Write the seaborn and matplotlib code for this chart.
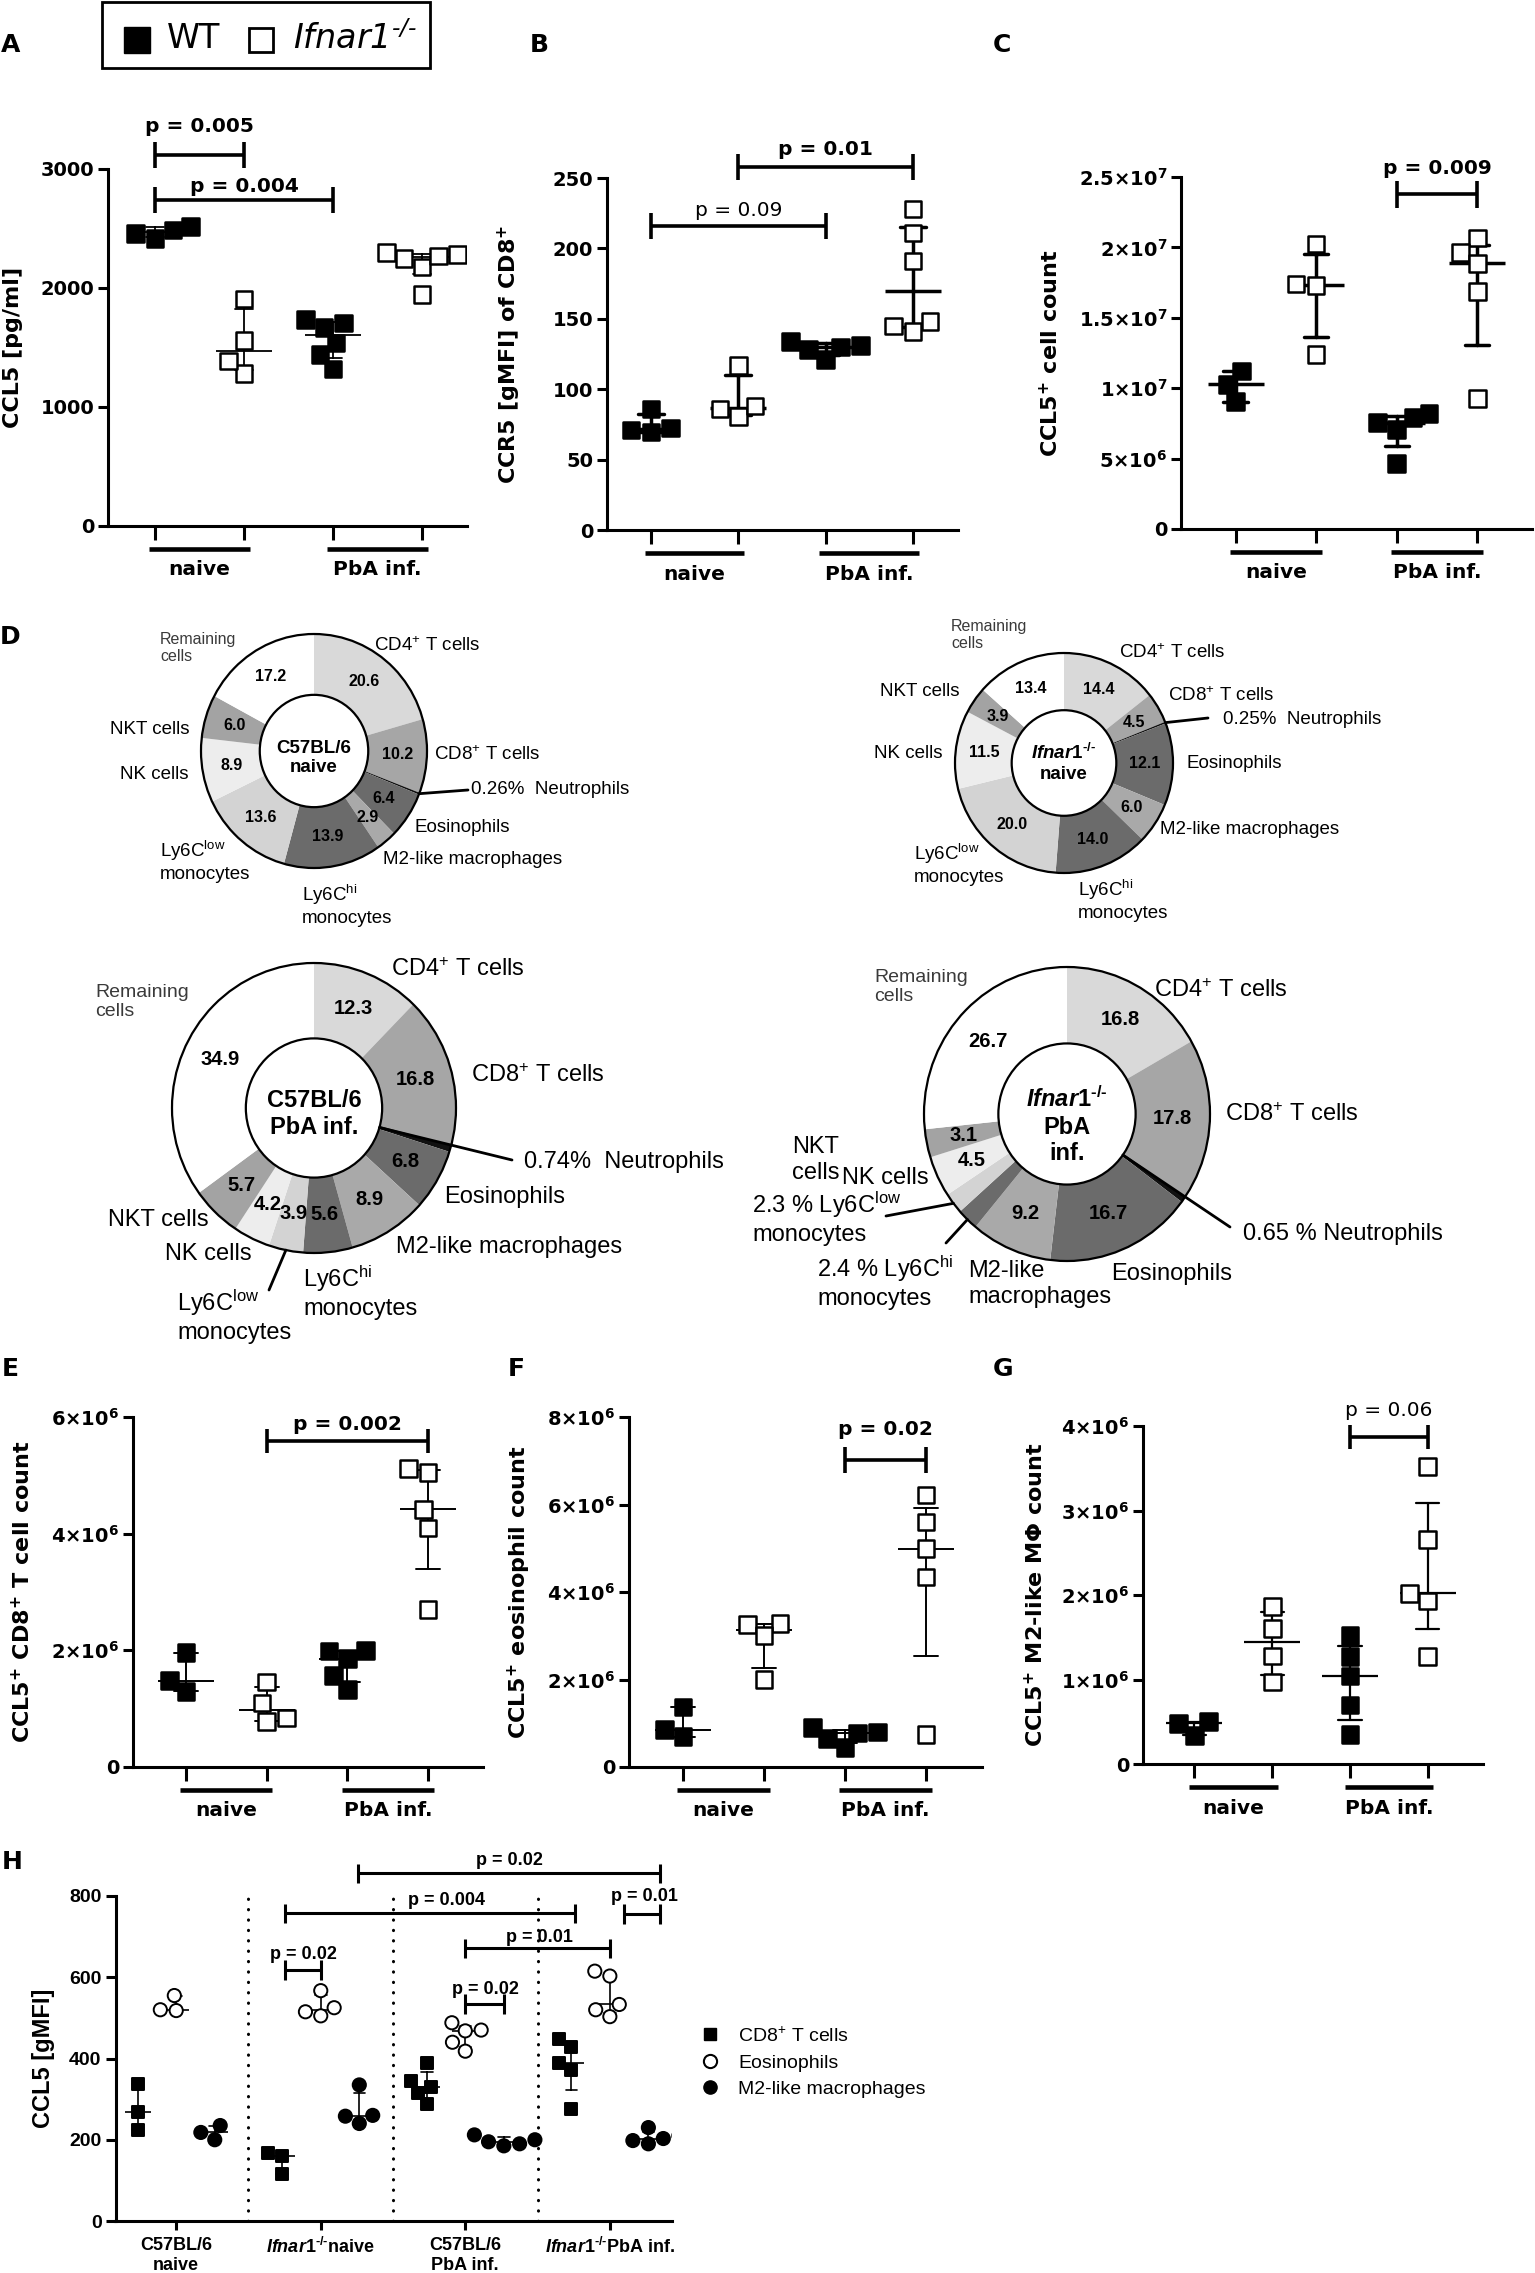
import numpy as np
import pandas as pd
import matplotlib
matplotlib.use('Agg')
from matplotlib import pyplot as plt
from matplotlib import patches, transforms
from matplotlib.lines import Line2D
import seaborn as sns

W, H = 1535, 2273

# ---------------------------------------------------------------- data
GROUPS = ['WT naive', 'Ifnar1 naive', 'WT PbA', 'Ifnar1 PbA']
GENOTYPES = ['WT', 'KO', 'WT', 'KO']

# A: CCL5 [pg/ml]
ccl5_serum = [
    [2415, 2515, 2455, 2485],
    [1905, 1555, 1280, 1385],
    [1318, 1440, 1537, 1666, 1704, 1736],
    [1945, 2174, 2244, 2267, 2277, 2293],
]
# B: CCR5 [gMFI] of CD8+
ccr5_cd8 = [
    [69.5, 71, 72.5, 86],
    [80.5, 86, 88, 117],
    [121, 128, 130, 131, 134],
    [141, 145, 148, 191, 211, 228],
]
# C: CCL5+ cell count
ccl5_cells = [
    [11.23e6, 10.28e6, 9.05e6],
    [20.23e6, 17.39e6, 17.31e6, 12.40e6],
    [4.63e6, 7.09e6, 7.55e6, 7.9e6, 8.2e6],
    [20.67e6, 19.63e6, 18.87e6, 16.85e6, 9.27e6],
]
# E: CCL5+ CD8+ T cell count
ccl5_cd8_cells = [
    [1.96e6, 1.48e6, 1.30e6],
    [1.46e6, 1.10e6, 0.84e6, 0.78e6],
    [2.0e6, 1.99e6, 1.86e6, 1.57e6, 1.33e6],
    [5.12e6, 5.05e6, 4.42e6, 4.1e6, 2.7e6],
]
# F: CCL5+ eosinophil count
ccl5_eos_cells = [
    [1.37e6, 0.69e6, 0.85e6],
    [3.28e6, 3.25e6, 3.01e6, 2.0e6],
    [0.91e6, 0.78e6, 0.80e6, 0.65e6, 0.44e6],
    [6.22e6, 5.6e6, 4.99e6, 4.34e6, 0.74e6],
]
# G: CCL5+ M2-like macrophage count
ccl5_m2_cells = [
    [0.34e6, 0.48e6, 0.50e6],
    [1.86e6, 1.60e6, 1.28e6, 0.97e6],
    [1.52e6, 1.27e6, 1.04e6, 0.70e6, 0.35e6],
    [3.52e6, 2.66e6, 2.02e6, 1.93e6, 1.27e6],
]

# D: composition of CCL5+ cells (%)
PIE_CELLS = ['CD4', 'CD8', 'Neutrophils', 'Eosinophils', 'M2', 'Ly6Chi',
             'Ly6Clow', 'NK', 'NKT', 'Remaining']
pie_wt_naive = [20.6, 10.2, 0.26, 6.4, 2.9, 13.9, 13.6, 8.9, 6.0, 17.2]
pie_ko_naive = [14.4, 4.5, 0.25, 12.1, 6.0, 14.0, 20.0, 11.5, 3.9, 13.4]
pie_wt_pba = [12.3, 16.8, 0.74, 6.8, 8.9, 5.6, 3.9, 4.2, 5.7, 34.9]
pie_ko_pba = [16.8, 17.8, 0.65, 16.7, 9.2, 2.4, 2.3, 4.5, 3.1, 26.7]

# H: CCL5 [gMFI] per cell type
H_CONDS = ['wt_naive', 'ko_naive', 'wt_pba', 'ko_pba']
H_CELLS = ['CD8', 'Eos', 'M2']
h_cd8 = [[338, 268, 225], [168, 160, 115],
         [390, 345, 330, 315, 288], [447, 428, 390, 372, 275]]
h_eos = [[555, 520, 518], [567, 525, 505, 515],
         [488, 470, 468, 440, 418], [615, 603, 533, 520, 503]]
h_m2 = [[235, 218, 200], [335, 260, 240, 258],
        [212, 200, 195, 190, 185], [230, 210, 203, 198, 190]]

# ---------------------------------------------------------------- style
sns.set_style('ticks')
plt.rcParams.update({
    'font.family': 'DejaVu Sans',
    'axes.edgecolor': 'black',
    'axes.labelcolor': 'black',
    'xtick.color': 'black',
    'ytick.color': 'black',
    'text.color': 'black',
    'mathtext.default': 'regular',
    'mathtext.fontset': 'custom',
    'mathtext.it': 'Liberation Sans:italic:bold',
    'mathtext.rm': 'Liberation Sans:bold',
    'mathtext.bf': 'Liberation Sans:bold',
})
ARIAL = 'Liberation Sans'
KO_SUP = '$^{\u2010/\u2010}$'   # plain hyphens, no operator spacing

fig = plt.figure(figsize=(W / 100, H / 100), dpi=100)


def add_ax(x0, y0, x1, y1):
    return fig.add_axes([x0 / W, 1 - y1 / H, (x1 - x0) / W, (y1 - y0) / H])


def iqr(v):
    return (np.percentile(v, 25, method='weibull'),
            np.percentile(v, 75, method='weibull'))


def long_table(values):
    rows = [(g, gt, v) for g, gt, vals in zip(GROUPS, GENOTYPES, values)
            for v in vals]
    return pd.DataFrame(rows, columns=['group', 'genotype', 'value'])


def bracket(ax, x1, x2, y, h, label, ty, tx=None, bold=True, fs=14.5,
            lw=2.6, **text_kw):
    kw = dict(color='black', lw=lw, clip_on=False, solid_capstyle='butt')
    ax.plot([x1, x2], [y, y], **kw)
    ax.plot([x1, x1], [y - h, y + h], **kw)
    ax.plot([x2, x2], [y - h, y + h], **kw)
    ax.text((x1 + x2) / 2 if tx is None else tx, ty, label, ha='center',
            va='baseline', fontsize=fs,
            fontweight='bold' if bold else 'normal', clip_on=False, **text_kw)


def place_ylabel(ax, px):
    pos = ax.get_position()
    ax.yaxis.label.set_va('center')
    ax.yaxis.set_label_coords((px / W - pos.x0) / pos.width, 0.5)


def scatter_panel(box, xlim, values, ylim, yticks, yticklabels, ylabel,
                  ylabel_x, lw, capsize):
    ax = add_ax(*box)
    df = long_table(values)
    sns.swarmplot(data=df, x='group', y='value', hue='genotype', order=GROUPS,
                  hue_order=['WT', 'KO'],
                  palette={'WT': 'black', 'KO': 'white'},
                  marker='s', size=12, edgecolor='black', linewidth=1.8,
                  legend=False, ax=ax)
    sns.pointplot(data=df, x='group', y='value', order=GROUPS,
                  estimator='median', errorbar=iqr, color='black',
                  marker='_', markersize=40, markeredgewidth=lw,
                  linestyle='none', capsize=capsize,
                  err_kws={'linewidth': lw}, ax=ax)
    ax.set_xlim(*xlim)
    ax.set_ylim(*ylim)
    ax.set_xticks(range(4), [''] * 4)
    ax.set_yticks(yticks, yticklabels, fontsize=14, fontweight='bold')
    ax.set_xlabel('')
    ax.set_ylabel(ylabel, fontsize=16, fontweight='bold')
    place_ylabel(ax, ylabel_x)
    sns.despine(ax=ax)
    for side in ('left', 'bottom'):
        ax.spines[side].set_linewidth(2.2)
    ax.tick_params(axis='y', length=7, width=2.2, pad=3)
    ax.tick_params(axis='x', length=10, width=2.2)

    base = transforms.blended_transform_factory(ax.transData, ax.transAxes)
    line_tr = transforms.offset_copy(base, fig=fig, y=-23, units='dots')
    text_tr = transforms.offset_copy(base, fig=fig, y=-44, units='dots')
    for (a, b), name in zip([(0, 1), (2, 3)], ['naive', 'PbA inf.']):
        ax.plot([a - 0.07, b + 0.07], [0, 0], transform=line_tr,
                color='black', lw=3.3, clip_on=False, solid_capstyle='butt')
        ax.text((a + b) / 2, 0, name, transform=text_tr, ha='center',
                va='center', fontsize=14.5, fontweight='bold')
    return ax


# ---------------------------------------------------------------- A, B, C
ax_a = scatter_panel((108, 168.6, 467, 526), (-0.528, 3.506), ccl5_serum,
                     (0, 3000), [0, 1000, 2000, 3000],
                     ['0', '1000', '2000', '3000'], 'CCL5 [pg/ml]', 13,
                     1.3, 0.2)
bracket(ax_a, 0, 1, 3113, 110, 'p = 0.005', 3305)
bracket(ax_a, 0, 2, 2736, 110, 'p = 0.004', 2807)

ax_b = scatter_panel((607, 178, 958, 530), (-0.504, 3.517), ccr5_cd8,
                     (0, 250), [0, 50, 100, 150, 200, 250],
                     ['0', '50', '100', '150', '200', '250'],
                     'CCR5 [gMFI] of CD8$^{+}$', 509, 2.5, 0.3)
bracket(ax_b, 0, 2, 216, 9.3, 'p = 0.09', 223, bold=False)
bracket(ax_b, 1, 3, 258, 9.3, 'p = 0.01', 266)

ax_c = scatter_panel((1181, 177, 1532, 529), (-0.677, 3.68), ccl5_cells,
                     (0, 2.5e7), [0, 5e6, 1e7, 1.5e7, 2e7, 2.5e7],
                     ['0', '5×10$^{6}$', '1×10$^{7}$', '1.5×10$^{7}$',
                      '2×10$^{7}$', '2.5×10$^{7}$'],
                     'CCL5$^{+}$ cell count', 1050, 2.5, 0.3)
bracket(ax_c, 2, 3, 23.77e6, 0.95e6, 'p = 0.009', 25.2e6)

# ---------------------------------------------------------------- E, F, G
ax_e = scatter_panel((133, 1417, 483, 1767), (-0.657, 3.68), ccl5_cd8_cells,
                     (0, 6e6), [0, 2e6, 4e6, 6e6],
                     ['0', '2×10$^{6}$', '4×10$^{6}$', '6×10$^{6}$'],
                     'CCL5$^{+}$ CD8$^{+}$ T cell count', 22, 1.4, 0.3)
bracket(ax_e, 1, 3, 5.59e6, 0.21e6, 'p = 0.002', 5.78e6)

ax_f = scatter_panel((629, 1417, 982, 1767), (-0.667, 3.69), ccl5_eos_cells,
                     (0, 8e6), [0, 2e6, 4e6, 6e6, 8e6],
                     ['0', '2×10$^{6}$', '4×10$^{6}$', '6×10$^{6}$',
                      '8×10$^{6}$'],
                     'CCL5$^{+}$ eosinophil count', 519, 1.4, 0.3)
bracket(ax_f, 2, 3, 7.02e6, 0.29e6, 'p = 0.02', 7.58e6)

ax_g = scatter_panel((1143, 1426, 1483, 1764), (-0.662, 3.71), ccl5_m2_cells,
                     (0, 4e6), [0, 1e6, 2e6, 3e6, 4e6],
                     ['0', '1×10$^{6}$', '2×10$^{6}$', '3×10$^{6}$',
                      '4×10$^{6}$'],
                     'CCL5$^{+}$ M2-like MΦ count', 1035, 1.6, 0.3)
bracket(ax_g, 2, 3, 3.87e6, 0.14e6, 'p = 0.06', 4.12e6, bold=False)

# ---------------------------------------------------------------- D pies
PIE_COLORS = ['#d9d9d9', '#a6a6a6', '#111111', '#6b6b6b', '#a9a9a9',
              '#6b6b6b', '#d3d3d3', '#ededed', '#a3a3a3', '#ffffff']
INNER = 0.48


def pie_panel(center, semi, values, center_text, labels, leaders, skip,
              fs, fs_small, fs_value, center_dy=0.0):
    (cx, cy), (a, b) = center, semi
    ax = add_ax(cx - a, cy - b, cx + a, cy + b)
    wedges, _ = ax.pie(values, colors=PIE_COLORS, startangle=90,
                       counterclock=False, radius=1,
                       wedgeprops={'width': 1 - INNER, 'linewidth': 0})
    ax.set_aspect('auto')
    ax.set_xlim(-1, 1)
    ax.set_ylim(-1, 1)
    ax.axis('off')
    for r in (1, INNER):
        ax.add_patch(patches.Circle((0, 0), r, fill=False, ec='black',
                                    lw=1.6, clip_on=False, zorder=4))
    mid = [np.deg2rad((w.theta1 + w.theta2) / 2) for w in wedges]
    rr = (1 + INNER) / 2
    for i, (v, ang) in enumerate(zip(values, mid)):
        if i in skip:
            continue
        ax.text(rr * np.cos(ang), rr * np.sin(ang), f'{v:.1f}', ha='center',
                va='center', fontsize=fs_value, fontweight='bold',
                family=ARIAL)
    ax.text(0, center_dy, center_text, ha='center', va='center',
            multialignment='center', fontsize=fs, fontweight='bold',
            family=ARIAL)
    for text, x, y, ha in labels:
        small = text.startswith('Remaining')
        fig.text(x / W, 1 - y / H, text, ha=ha, va='center', family=ARIAL,
                 fontsize=fs_small if small else fs,
                 color='#3a3a3a' if small else 'black')
    for i, r0, ex, ey in leaders:
        ax.annotate('', xy=(r0 * np.cos(mid[i]), r0 * np.sin(mid[i])),
                    xytext=(ex, H - ey), textcoords='figure pixels',
                    arrowprops=dict(arrowstyle='-', lw=2, color='black',
                                    shrinkA=0, shrinkB=0),
                    annotation_clip=False, zorder=5)


pie_panel((314, 751), (113, 117), pie_wt_naive, 'C57BL/6\nnaive', [
    ('Remaining\ncells', 160, 648, 'left'),
    ('CD4$^{+}$ T cells', 374, 646, 'left'),
    ('CD8$^{+}$ T cells', 434, 755, 'left'),
    ('0.26%  Neutrophils', 471, 790, 'left'),
    ('Eosinophils', 415, 828, 'left'),
    ('M2-like macrophages', 383, 860, 'left'),
    ('Ly6C$^{hi}$\nmonocytes', 302, 905, 'left'),
    ('Ly6C$^{low}$\nmonocytes', 160, 861, 'left'),
    ('NK cells', 189, 775, 'right'),
    ('NKT cells', 189, 729, 'right'),
], [(2, 1.0, 468, 790)], {2}, 13.5, 11.5, 11.5, center_dy=-0.06)

pie_panel((1064, 763), (109, 110), pie_ko_naive,
          '$\\mathit{Ifnar1}$' + KO_SUP + '\nnaive', [
              ('Remaining\ncells', 951, 635, 'left'),
              ('CD4$^{+}$ T cells', 1119, 653, 'left'),
              ('CD8$^{+}$ T cells', 1168, 696, 'left'),
              ('0.25%  Neutrophils', 1223, 720, 'left'),
              ('Eosinophils', 1186, 763, 'left'),
              ('M2-like macrophages', 1160, 830, 'left'),
              ('Ly6C$^{hi}$\nmonocytes', 1078, 900, 'left'),
              ('Ly6C$^{low}$\nmonocytes', 914, 864, 'left'),
              ('NK cells', 943, 753, 'right'),
              ('NKT cells', 960, 692, 'right'),
          ], [(2, 1.0, 1208, 718)], {2}, 13.5, 11.5, 11.5)

pie_panel((314, 1108), (142, 145), pie_wt_pba, 'C57BL/6\nPbA inf.', [
    ('Remaining\ncells', 95, 1002, 'left'),
    ('CD4$^{+}$ T cells', 391, 970, 'left'),
    ('CD8$^{+}$ T cells', 471, 1076, 'left'),
    ('0.74%  Neutrophils', 524, 1162, 'left'),
    ('Eosinophils', 444, 1197, 'left'),
    ('M2-like macrophages', 396, 1247, 'left'),
    ('Ly6C$^{hi}$\nmonocytes', 303, 1292, 'left'),
    ('Ly6C$^{low}$\nmonocytes', 177, 1316, 'left'),
    ('NK cells', 252, 1254, 'right'),
    ('NKT cells', 209, 1220, 'right'),
], [(2, INNER, 512, 1160), (6, 1.0, 269, 1290)], {2}, 17, 14, 14.5,
    center_dy=-0.04)

pie_panel((1067, 1114), (143, 147), pie_ko_pba,
          '$\\mathit{Ifnar1}$' + KO_SUP + '\nPbA\ninf.', [
              ('Remaining\ncells', 874, 987, 'left'),
              ('CD4$^{+}$ T cells', 1154, 991, 'left'),
              ('CD8$^{+}$ T cells', 1225, 1115, 'left'),
              ('0.65 % Neutrophils', 1243, 1234, 'left'),
              ('Eosinophils', 1111, 1274, 'left'),
              ('M2-like\nmacrophages', 968, 1284, 'left'),
              ('2.4 % Ly6C$^{hi}$\nmonocytes', 817, 1282, 'left'),
              ('2.3 % Ly6C$^{low}$\nmonocytes', 752, 1218, 'left'),
              ('NKT\ncells', 792, 1160, 'left'),
              ('NK cells', 842, 1178, 'left'),
          ], [(2, INNER, 1230, 1227), (5, 1.0, 946, 1243),
              (6, 1.0, 886, 1216)], {2, 5, 6}, 17, 14, 14.5,
          center_dy=-0.08)

# ---------------------------------------------------------------- H
rows = [(c, cell, v)
        for cell, table in zip(H_CELLS, [h_cd8, h_eos, h_m2])
        for c, vals in zip(H_CONDS, table) for v in vals]
dfh = pd.DataFrame(rows, columns=['cond', 'cell', 'value'])

ax_h = add_ax(115.5, 1896, 672, 2221)
for cell, marker, face, size in [('CD8', 's', 'black', 8.6),
                                 ('Eos', 'o', 'white', 9.5),
                                 ('M2', 'o', 'black', 9.5)]:
    sns.swarmplot(data=dfh[dfh['cell'] == cell], x='cond', y='value',
                  hue='cell', order=H_CONDS, hue_order=H_CELLS, dodge=True,
                  palette={c: face for c in H_CELLS}, marker=marker,
                  size=size, edgecolor='black', linewidth=1.4, legend=False,
                  ax=ax_h)
sns.pointplot(data=dfh, x='cond', y='value', hue='cell', order=H_CONDS,
              hue_order=H_CELLS, dodge=0.8 * 2 / 3,
              palette={c: 'black' for c in H_CELLS}, estimator='median',
              errorbar=iqr, marker='_', markersize=19, markeredgewidth=1.2,
              linestyle='none', capsize=0.08, err_kws={'linewidth': 1.2},
              legend=False, ax=ax_h)
for x in (0.5, 1.5, 2.5):
    ax_h.axvline(x, color='black', lw=2.2, ls=(0, (0.1, 3.3)),
                 dash_capstyle='round', zorder=0)
ax_h.set_xlim(-0.42, 3.43)
ax_h.set_ylim(0, 800)
ax_h.set_xticks(range(4), ['C57BL/6\nnaive',
                           '$\\mathit{Ifnar1}$' + KO_SUP + 'naive',
                           'C57BL/6\nPbA inf.',
                           '$\\mathit{Ifnar1}$' + KO_SUP + 'PbA inf.'],
                fontsize=13, fontweight='bold', family=ARIAL)
ax_h.set_yticks([0, 200, 400, 600, 800], ['0', '200', '400', '600', '800'],
                fontsize=14, fontweight='bold', family=ARIAL)
ax_h.set_xlabel('')
ax_h.set_ylabel('CCL5 [gMFI]', fontsize=17, fontweight='bold', family=ARIAL)
place_ylabel(ax_h, 44)
sns.despine(ax=ax_h)
for side in ('left', 'bottom'):
    ax_h.spines[side].set_linewidth(2.2)
ax_h.tick_params(axis='y', length=7, width=2.2, pad=3)
ax_h.tick_params(axis='x', length=6.5, width=2.2, pad=5)

hb = dict(fs=13, lw=2.2, family=ARIAL)
bracket(ax_h, 1.26, 3.35, 856, 24, 'p = 0.02', 876, **hb)
bracket(ax_h, 0.755, 2.76, 757, 24, 'p = 0.004', 778, tx=1.87, **hb)
bracket(ax_h, 3.10, 3.35, 756, 24, 'p = 0.01', 788, tx=3.24, **hb)
bracket(ax_h, 2.0, 3.0, 671, 24, 'p = 0.01', 687, tx=2.51, **hb)
bracket(ax_h, 0.755, 1.0, 618, 24, 'p = 0.02', 646, tx=0.88, **hb)
bracket(ax_h, 2.0, 2.27, 534, 24, 'p = 0.02', 558, tx=2.14, **hb)

h_handles = [
    Line2D([], [], marker='s', ls='none', ms=9, mfc='black', mec='black'),
    Line2D([], [], marker='o', ls='none', ms=9.5, mfc='white', mec='black',
           mew=1.5),
    Line2D([], [], marker='o', ls='none', ms=9.5, mfc='black', mec='black'),
]
fig.legend(h_handles, ['CD8$^{+}$ T cells', 'Eosinophils',
                       'M2-like macrophages'],
           loc='center left', bbox_to_anchor=(700 / W, 1 - 2062 / H),
           frameon=False, prop={'family': ARIAL, 'size': 14},
           handlelength=1, handletextpad=0.95, labelspacing=0.45,
           borderaxespad=0, borderpad=0)

# ---------------------------------------------------------------- top legend
fig.add_artist(patches.Rectangle((102 / W, 1 - 68 / H), 328 / W, 66 / H,
                                 transform=fig.transFigure, fill=False,
                                 lw=2, ec='black'))
fig.add_artist(Line2D([136.5 / W], [1 - 40 / H], transform=fig.transFigure,
                      marker='s', ms=18.5, mfc='black', mec='black',
                      ls='none'))
fig.add_artist(Line2D([260.5 / W], [1 - 40 / H], transform=fig.transFigure,
                      marker='s', ms=17, mfc='white', mec='black', mew=2,
                      ls='none'))
fig.text(167 / W, 1 - 39 / H, 'WT', fontsize=24, va='center')
fig.text(293 / W, 1 - 39 / H, 'Ifnar1' + KO_SUP, fontsize=24, va='center',
         style='italic')

# ---------------------------------------------------------------- panel letters
for letter, x, y in [('A', 1, 33), ('B', 530, 33), ('C', 993, 33),
                     ('D', 0, 625), ('E', 2, 1357), ('F', 508, 1357),
                     ('G', 993, 1357), ('H', 2, 1850)]:
    fig.text(x / W, 1 - y / H, letter, fontsize=18, fontweight='bold',
             ha='left', va='top')

fig.savefig('out.png', dpi=100)
plt.close(fig)
